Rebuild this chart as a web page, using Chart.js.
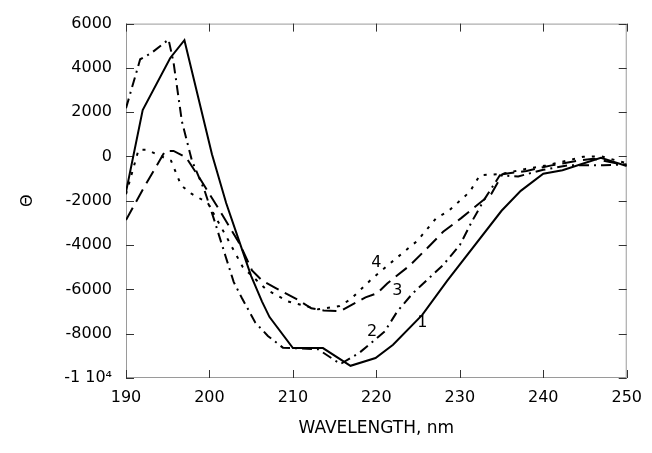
<!DOCTYPE html>
<html><head><meta charset="utf-8">
<script src="https://cdn.jsdelivr.net/npm/chart.js@4/dist/chart.umd.min.js"></script>
<style>html,body{margin:0;padding:0;background:#fff}#wrap{width:652px;height:453px}</style>
</head><body><div id="wrap"><canvas id="c" width="652" height="453"></canvas></div>
<script>
// ---- data ----
const xTicks = [190, 200, 210, 220, 230, 240, 250];
const yTicks = [6000, 4000, 2000, 0, -2000, -4000, -6000, -8000, -10000];

const curve1X = [190,192,195.3,197,200.3,202,203.5,205,206.3,207.2,210,213.6,216.9,219.9,222,225.5,228.5,235,237.3,240,242.3,246.9,250];
const curve1Y = [-1600,2100,4450,5250,100,-2100,-3750,-5400,-6550,-7250,-8650,-8650,-9450,-9100,-8500,-7150,-5600,-2450,-1550,-780,-620,-60,-430];

const curve2X = [190,191.7,193.1,195.1,195.7,196.7,197.9,199.4,200.5,201.9,202.9,203.9,205.5,207,208.8,213,215.7,218,221,222.5,224.3,226,228,230,231.5,233,234.8,237,240,243,244.4,247.2,250];
const curve2Y = [2180,4390,4690,5280,4240,1580,-190,-1520,-2780,-4470,-5660,-6400,-7500,-8100,-8630,-8700,-9370,-8850,-7900,-7000,-6200,-5600,-4900,-4000,-2900,-1900,-850,-900,-600,-400,-400,-400,-350];

const curve3X = [190,192,194.7,195.7,197.2,199,201,203.7,205.1,206.3,208,210.6,212.2,213.7,215.7,218.7,220.1,221.3,224,226.2,228,230.2,233.8,235.1,238,241,244,246,250];
const curve3Y = [-2870,-1500,250,250,-40,-1080,-2300,-4000,-5140,-5600,-5950,-6470,-6850,-6950,-6980,-6360,-6170,-5730,-4920,-4100,-3400,-2770,-1670,-800,-650,-400,-200,-100,-400];

const curve4X = [190,191.5,192.5,195.4,196.6,197.8,199.8,202,204,206.8,209.4,213,215.6,216.9,219.5,222.3,224.9,227.2,228.6,231.2,232.4,235.1,237.9,240.3,244.8,247,250];
const curve4Y = [-1700,300,300,-190,-1300,-1670,-2100,-3600,-5000,-6000,-6540,-6900,-6750,-6450,-5510,-4620,-3810,-2770,-2480,-1590,-850,-780,-560,-410,-10,0,-300];

const curveLabels = ['1', '2', '3', '4'];
const labelX = [225.5, 219.5, 222.5, 220.0];
const labelY = [-7530, -7910, -6045, -4790];

// ---- build ----
function pts(xs, ys) { return xs.map((x, i) => ({x: x, y: ys[i]})); }
const styles = [
  {dash: []},
  {dash: [10, 5, 2, 5]},
  {dash: [14, 7]},
  {dash: [3, 7]}
];
const series = [[curve1X, curve1Y], [curve2X, curve2Y], [curve3X, curve3Y], [curve4X, curve4Y]];
const datasets = series.map((s, i) => ({
  data: pts(s[0], s[1]),
  borderColor: '#000',
  borderWidth: 2,
  borderDash: styles[i].dash,
  pointRadius: 0,
  tension: 0,
  fill: false
}));

const framePlugin = {
  id: 'frame',
  beforeDatasetsDraw(chart) {
    const {ctx, chartArea: a, scales: {x, y}} = chart;
    ctx.save();
    ctx.strokeStyle = '#9a9a9a';
    ctx.lineWidth = 1;
    ctx.strokeRect(a.left + 0.5, a.top + 0.5, a.right - a.left - 1, a.bottom - a.top - 1);
    ctx.strokeStyle = '#333';
    ctx.lineWidth = 1;
    ctx.beginPath();
    const L = 8;
    yTicks.forEach(v => {
      const p = Math.round(y.getPixelForValue(v)) + 0.5;
      ctx.moveTo(a.left, p); ctx.lineTo(a.left + L, p);
      ctx.moveTo(a.right, p); ctx.lineTo(a.right - L, p);
    });
    xTicks.forEach(v => {
      const p = Math.round(x.getPixelForValue(v)) + 0.5;
      ctx.moveTo(p, a.bottom); ctx.lineTo(p, a.bottom - L);
      ctx.moveTo(p, a.top); ctx.lineTo(p, a.top + L);
    });
    ctx.stroke();
    ctx.restore();
  },
  afterDatasetsDraw(chart) {
    const {ctx, scales: {x, y}} = chart;
    ctx.save();
    ctx.fillStyle = '#000';
    ctx.font = '16px "DejaVu Sans"';
    ctx.textAlign = 'center';
    ctx.textBaseline = 'middle';
    curveLabels.forEach((t, i) => {
      ctx.fillText(t, x.getPixelForValue(labelX[i]), y.getPixelForValue(labelY[i]));
    });
    ctx.restore();
  }
};

new Chart(document.getElementById('c'), {
  type: 'line',
  data: {datasets},
  plugins: [framePlugin],
  options: {
    responsive: false,
    devicePixelRatio: 1,
    animation: false,
    layout: {padding: {left: 0, right: 20, top: 17, bottom: 14}},
    plugins: {legend: {display: false}, tooltip: {enabled: false}},
    scales: {
      x: {
        type: 'linear', min: 190, max: 250,
        afterBuildTicks: s => { s.ticks = xTicks.map(v => ({value: v})); },
        afterFit: s => { s.height = 61; },
        grid: {display: false, drawTicks: false},
        border: {display: false},
        ticks: {color: '#000', font: {family: 'DejaVu Sans', size: 16}, padding: 10, maxRotation: 0},
        title: {display: true, text: 'WAVELENGTH, nm', color: '#000', font: {family: 'DejaVu Sans', size: 17}, padding: {top: 0, bottom: 0}}
      },
      y: {
        type: 'linear', min: -10000, max: 6000,
        afterBuildTicks: s => { s.ticks = yTicks.map(v => ({value: v})); },
        afterFit: s => { s.width = 126; },
        grid: {display: false, drawTicks: false},
        border: {display: false},
        ticks: {color: '#000', font: {family: 'DejaVu Sans', size: 16}, padding: 14,
          callback: v => v === -10000 ? '-1 10\u2074' : String(v)},
        title: {display: true, text: '\u0398', color: '#000', font: {family: 'DejaVu Sans', size: 16}, padding: {top: 18, bottom: 0}}
      }
    }
  }
});
</script></body></html>
